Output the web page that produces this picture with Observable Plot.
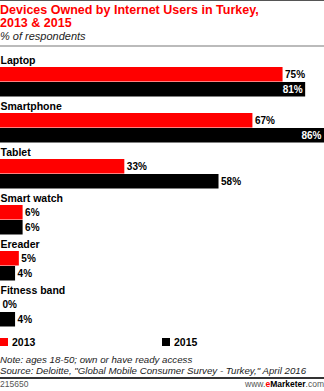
<!DOCTYPE html>
<html>
<head>
<meta charset="utf-8">
<script src="https://cdn.jsdelivr.net/npm/d3@7"></script>
<script src="https://cdn.jsdelivr.net/npm/@observablehq/plot@0.6"></script>
<style>
  html, body { margin: 0; padding: 0; background: #fff; }
  body { width: 324px; height: 391px; overflow: hidden; font-family: "Liberation Sans", Arial, sans-serif; color: #000; }
  #head { border-top: 1px solid #555; padding-top: 3px; }
  #title { color: #ff0000; font-weight: bold; font-size: 12.5px; line-height: 13px; }
  #subtitle { font-style: italic; font-size: 11px; line-height: 12px; color: #222; margin-top: 0px; }
  #rule1 { height: 2px; background: #bbb; margin-top: 3px; }
  #chart { margin-top: 4px; height: 276px; }
  #legend { position: relative; height: 12px; margin-top: 9px; font-size: 10.5px; font-weight: bold; line-height: 12px; }
  .item { position: absolute; top: 0; display: flex; align-items: center; }
  .sw { width: 8px; height: 8px; margin-right: 4px; }
  #notes { margin-top: 7px; font-size: 9.7px; line-height: 10.5px; font-style: italic; color: #222; padding-bottom: 1px; border-bottom: 2px solid #333; }
  #foot { display: flex; justify-content: space-between; font-size: 8.5px; line-height: 9px; color: #555; margin-top: 1px; }
  #foot b { color: #000; }
  #foot .e { color: #ff0000; font-weight: bold; }
</style>
</head>
<body>
<div id="head">
  <div id="title">Devices Owned by Internet Users in Turkey,<br>2013 &amp; 2015</div>
  <div id="subtitle">% of respondents</div>
  <div id="rule1"></div>
</div>
<div id="chart"></div>
<div id="legend"></div>
<div id="notes">Note: ages 18-50; own or have ready access<br>Source: Deloitte, "Global Mobile Consumer Survey - Turkey," April 2016</div>
<div id="foot"><span>215650</span><span>www.<span class="e">e</span><b>Marketer</b>.com</span></div>
<script>
const devices = ["Laptop", "Smartphone", "Tablet", "Smart watch", "Ereader", "Fitness band"];
const years = ["2013", "2015"];
const values2013 = [75, 67, 33, 6, 5, 0];
const values2015 = [81, 86, 58, 6, 4, 4];
const colors = ["#ff0000", "#000000"];

const data = [];
devices.forEach((d, i) => {
  data.push({device: d, year: "2013", value: values2013[i]});
  data.push({device: d, year: "2015", value: values2015[i]});
});
const inside = d => d.value >= 80;

const fontFamily = '"Liberation Sans", Arial, sans-serif';
const chart = Plot.plot({
  width: 324,
  height: 276,
  marginLeft: 0,
  marginRight: 0,
  marginTop: 0,
  marginBottom: 0,
  style: {fontFamily, fontSize: "10px", background: "transparent"},
  x: {domain: [0, 86], range: [0, 324], axis: null},
  y: {domain: ["label", ...years], padding: 0, axis: null},
  fy: {domain: devices, padding: 0, axis: null},
  color: {domain: years, range: colors},
  marks: [
    Plot.barX(data, {x: "value", y: "year", fy: "device", fill: "year", insetTop: 0, insetBottom: 0.5}),
    Plot.text(devices, {fy: d => d, y: () => "label", text: d => d, frameAnchor: "left", textAnchor: "start", fontWeight: "bold", fontSize: 10.5, fill: "#000", dy: 1}),
    Plot.text(data.filter(d => !inside(d)), {x: "value", y: "year", fy: "device", text: d => d.value + "%", textAnchor: "start", dx: 2, fontWeight: "bold", fontSize: 10, fill: "#000"}),
    Plot.text(data.filter(inside), {x: "value", y: "year", fy: "device", text: d => d.value + "%", textAnchor: "end", dx: -3, fontWeight: "bold", fontSize: 10, fill: "#fff"})
  ]
});
document.getElementById("chart").appendChild(chart);

const legend = document.getElementById("legend");
const legendX = [0, 162];
years.forEach((y, i) => {
  const it = document.createElement("div");
  it.className = "item";
  it.style.left = legendX[i] + "px";
  it.innerHTML = `<span class="sw" style="background:${colors[i]}"></span><span>${y}</span>`;
  legend.appendChild(it);
});
</script>
</body>
</html>
